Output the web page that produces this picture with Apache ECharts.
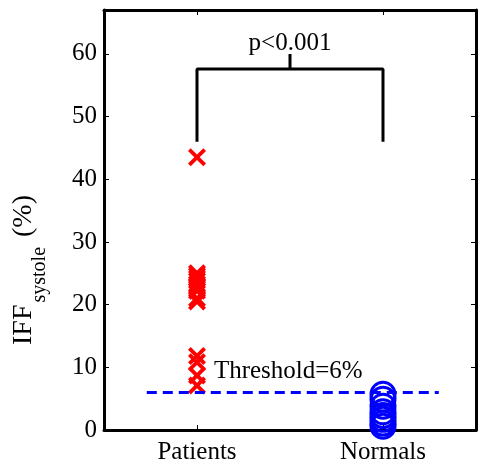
<!DOCTYPE html>
<html>
<head>
<meta charset="utf-8">
<script src="https://cdn.jsdelivr.net/npm/echarts@6/dist/echarts.min.js"></script>
<style>
html, body { margin: 0; padding: 0; background: #fff; }
#chart { width: 487px; height: 461px; }
</style>
</head>
<body>
<div id="chart"></div>
<script>
var groups = ['Patients', 'Normals'];
var groupPos = [1, 2];
var patientsVals = [43.5, 25, 24.6, 24.2, 23.8, 23.3, 22.8, 22.2, 21, 20.5, 11.8, 10.8, 8.7, 7.1];
var normalsVals = [5.7, 4.9, 3.8, 2.9, 2.3, 1.7, 1.1, 0.6];
var thresholdVal = 6;
var thresholdSpan = [0.73, 2.3];
var bracketLow = 46;
var bracketHigh = 57.6;
var bracketTick = 60;
var yTicks = [0, 10, 20, 30, 40, 50, 60];

var serif = '"Liberation Serif", "Times New Roman", serif';
// filled x-shaped marker
var xMark = 'path://M0,1.5L1.5,0L5,3.5L8.5,0L10,1.5L6.5,5L10,8.5L8.5,10L5,6.5L1.5,10L0,8.5L3.5,5Z';

var chart = echarts.init(document.getElementById('chart'));

var option = {
	animation: false,
	backgroundColor: '#fff',
	grid: {
		left: 104,
		right: 11,
		top: 10,
		bottom: 31,
		containLabel: false,
		outerBoundsMode: 'none'
	},
	xAxis: [{
		type: 'value',
		min: 0.5,
		max: 2.5,
		axisLine: { show: true, lineStyle: { color: '#000', width: 3 } },
		axisTick: { show: true, inside: true, length: 5, customValues: groupPos, lineStyle: { color: '#000', width: 1 } },
		axisLabel: {
			customValues: groupPos,
			color: '#000',
			fontFamily: serif,
			fontSize: 25,
			margin: 10,
			formatter: function(v) {
				return groups[groupPos.indexOf(v)] || '';
			}
		},
		splitLine: { show: false }
	}, {
		type: 'value',
		position: 'top',
		min: 0.5,
		max: 2.5,
		axisLine: { show: true, onZero: false, lineStyle: { color: '#000', width: 3 } },
		axisTick: { show: true, inside: true, length: 5, customValues: groupPos, lineStyle: { color: '#000' } },
		axisLabel: { show: false },
		splitLine: { show: false }
	}],
	yAxis: [{
		type: 'value',
		min: 0,
		max: 67,
		interval: 10,
		axisLine: { show: true, lineStyle: { color: '#000', width: 3 } },
		axisTick: { show: true, inside: true, length: 5, customValues: yTicks, lineStyle: { color: '#000' } },
		axisLabel: {
			customValues: yTicks,
			color: '#000',
			fontFamily: serif,
			fontSize: 25,
			margin: 7
		},
		splitLine: { show: false },
		name: '{m|IFF}{s|systole}{p|(%)}{g|}',
		nameLocation: 'middle',
		nameRotate: 90,
		nameGap: 54,
		nameTextStyle: {
			rich: {
				m: { fontFamily: serif, fontSize: 28, color: '#000', lineHeight: 40, verticalAlign: 'top' },
				s: { fontFamily: serif, fontSize: 20, color: '#000', lineHeight: 12, verticalAlign: 'bottom', padding: [0, 10, 0, 2] },
				p: { fontFamily: serif, fontSize: 28, color: '#000', lineHeight: 40, verticalAlign: 'top' },
				g: { width: 100, lineHeight: 40 }
			}
		}
	}, {
		type: 'value',
		position: 'right',
		min: 0,
		max: 67,
		interval: 10,
		axisLine: { show: true, lineStyle: { color: '#000', width: 3 } },
		axisTick: { show: true, inside: true, length: 5, customValues: yTicks, lineStyle: { color: '#000' } },
		axisLabel: { show: false },
		splitLine: { show: false }
	}],
	series: [{
		// bracket
		type: 'line',
		symbol: 'none',
		lineStyle: { color: '#000', width: 3 },
		data: [[groupPos[0], bracketLow], [groupPos[0], bracketHigh], [groupPos[1], bracketHigh], [groupPos[1], bracketLow]],
		z: 2
	}, {
		type: 'line',
		symbol: 'none',
		lineStyle: { color: '#000', width: 3 },
		data: [[1.5, bracketHigh], [1.5, bracketTick]],
		z: 2
	}, {
		// p value text
		type: 'scatter',
		symbolSize: 0,
		itemStyle: { opacity: 1 },
		data: [[1.5, 61.6]],
		label: {
			show: true,
			position: 'inside',
			formatter: 'p<0.001',
			color: '#000',
			fontFamily: serif,
			fontSize: 25
		},
		z: 3
	}, {
		type: 'scatter',
		symbol: xMark,
		symbolSize: 18,
		itemStyle: { color: '#ff0000', opacity: 1 },
		data: patientsVals.map(function(v) { return [groupPos[0], v]; }),
		z: 3
	}, {
		// threshold
		type: 'line',
		symbol: 'none',
		lineStyle: { color: '#0000ff', width: 3, type: [10, 6] },
		data: [[thresholdSpan[0], thresholdVal], [thresholdSpan[1], thresholdVal]],
		z: 4
	}, {
		type: 'scatter',
		symbolSize: 0,
		itemStyle: { opacity: 1 },
		data: [[1.08, 9.4]],
		label: {
			show: true,
			position: 'right',
			distance: 2,
			formatter: 'Threshold=6%',
			color: '#000',
			fontFamily: serif,
			fontSize: 25
		},
		z: 4
	}, {
		type: 'scatter',
		symbol: 'circle',
		symbolSize: 24,
		itemStyle: { color: 'rgba(0,0,0,0)', borderColor: '#0000ff', borderWidth: 3, opacity: 1 },
		data: normalsVals.map(function(v) { return [groupPos[1], v]; }),
		z: 5
	}]
};
chart.setOption(option);
</script>
</body>
</html>
